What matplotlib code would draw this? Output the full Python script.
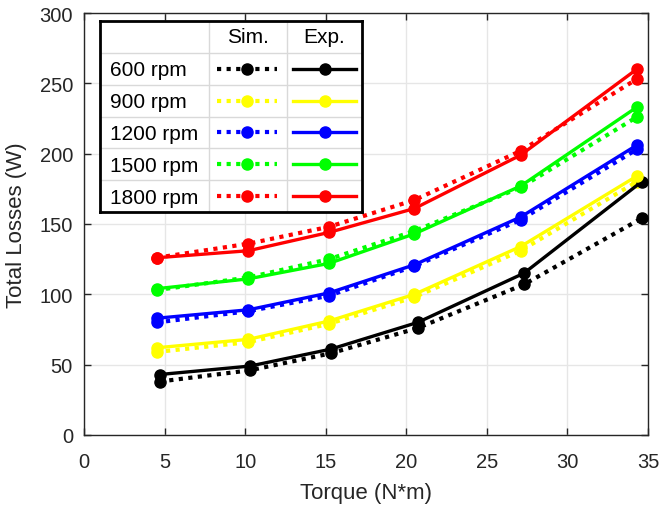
import matplotlib
matplotlib.use("Agg")
import matplotlib.pyplot as plt
from matplotlib.lines import Line2D

plt.rcParams['font.family'] = ['Liberation Sans', 'DejaVu Sans']

speeds = ["600 rpm", "900 rpm", "1200 rpm", "1500 rpm", "1800 rpm"]
colors = ["#000000", "#ffff00", "#0000ff", "#00ff00", "#ff0000"]

torque_600 = [4.7, 10.3, 15.3, 20.7, 27.3, 34.6]
torque_other = [4.5, 10.2, 15.2, 20.5, 27.1, 34.3]

exp_600 = [43, 49, 61, 80, 115, 180]
sim_600 = [38, 46, 58, 76, 107, 154]
exp_900 = [62, 68, 81, 100, 134, 184]
sim_900 = [59, 66, 79, 98, 131, 180]
exp_1200 = [83, 89, 101, 121, 155, 206]
sim_1200 = [80, 88, 99, 120, 153, 203]
exp_1500 = [104, 111, 122, 143, 177, 233]
sim_1500 = [103, 112, 125, 145, 176, 226]
exp_1800 = [126, 131, 144, 161, 199, 260]
sim_1800 = [126, 136, 148, 167, 202, 253]

torques = [torque_600, torque_other, torque_other, torque_other, torque_other]
exps = [exp_600, exp_900, exp_1200, exp_1500, exp_1800]
sims = [sim_600, sim_900, sim_1200, sim_1500, sim_1800]

xticks = [0, 5, 10, 15, 20, 25, 30, 35]
yticks = [0, 50, 100, 150, 200, 250, 300]

dot_style = (0, (1.0, 1.3))
lw_sim = 3.0
lw_exp = 2.4
ms = 8
tc = '#262626'

fig = plt.figure(figsize=(6.62, 5.10), dpi=100)
ax = fig.add_axes([84/662, 1 - 436/510, (648-84)/662, (436-14)/510])

for t, e, s, c in zip(torques, exps, sims, colors):
    ax.plot(t, s, linestyle=dot_style, color=c, lw=lw_sim, marker='o', ms=ms,
            dash_capstyle='butt', zorder=3)
    ax.plot(t, e, linestyle='-', color=c, lw=lw_exp, marker='o', ms=ms, zorder=4)

ax.set_xlim(0, 35)
ax.set_ylim(0, 300)
ax.set_xticks(xticks)
ax.set_yticks(yticks)
ax.grid(True, color='#e6e6e6', lw=1.0)
ax.set_axisbelow(True)
ax.tick_params(direction='in', length=5, width=1, top=True, right=True,
               labelsize=14.5, colors=tc)
ax.tick_params(axis='x', pad=12)
ax.tick_params(axis='y', pad=8)
for sp in ax.spines.values():
    sp.set_color(tc)
    sp.set_linewidth(1.0)
ax.set_xlabel("Torque (N*m)", fontsize=16, color=tc, labelpad=8)
ax.set_ylabel("Total Losses (W)", fontsize=16, color=tc, labelpad=9)

# Table-style legend
lax = fig.add_axes([100/662, 1 - 213/510, 262/662, 191/510], zorder=10)
lax.set_xlim(0, 1)
lax.set_ylim(0, 1)
lax.set_xticks([])
lax.set_yticks([])
lax.set_facecolor('white')
for sp in lax.spines.values():
    sp.set_linewidth(2.0)
    sp.set_color('black')
c1, c2 = 0.416, 0.714
nrows = 6
rh = 1.0 / nrows
for k in range(1, nrows):
    lax.axhline(1 - k * rh, color='#d9d9d9', lw=1.0)
lax.axvline(c1, color='#d9d9d9', lw=1.0)
lax.axvline(c2, color='#d9d9d9', lw=1.0)
lax.text((c1 + c2) / 2, 1 - rh / 2, "Sim.", ha='center', va='center', fontsize=15, color='black')
lax.text((c2 + 1) / 2, 1 - rh / 2, "Exp.", ha='center', va='center', fontsize=15, color='black')
for i, (name, c) in enumerate(zip(speeds, colors)):
    yc = 1 - (i + 1.5) * rh
    lax.text(0.04, yc - 0.005, name, ha='left', va='center', fontsize=15, color='black')
    lax.add_line(Line2D([0.447, 0.676], [yc, yc], color=c, lw=lw_sim,
                        linestyle=dot_style, dash_capstyle='butt'))
    lax.add_line(Line2D([0.5615], [yc], color=c, marker='o', ms=ms, lw=0))
    lax.add_line(Line2D([0.737, 0.977], [yc, yc], color=c, lw=lw_exp))
    lax.add_line(Line2D([0.857], [yc], color=c, marker='o', ms=ms, lw=0))

fig.savefig("out.png", dpi=100)
